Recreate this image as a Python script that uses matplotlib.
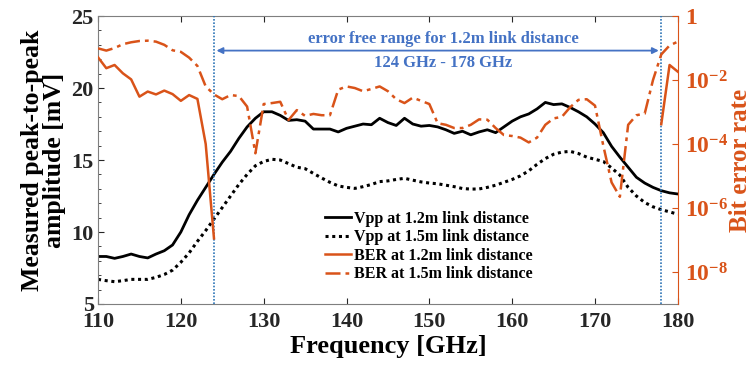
import matplotlib
matplotlib.use("Agg")
import matplotlib.pyplot as plt
import numpy as np

plt.rcParams['font.family'] = ['Liberation Serif', 'DejaVu Serif']
plt.rcParams['font.weight'] = 'bold'
plt.rcParams['mathtext.fontset'] = 'custom'
plt.rcParams['mathtext.rm'] = 'Liberation Serif:bold'
plt.rcParams['mathtext.bf'] = 'Liberation Serif:bold'
plt.rcParams['mathtext.it'] = 'Liberation Serif:bold'

# frequency grid [GHz]
freq = list(range(110, 181))

# peak-to-peak amplitude [mV]
vpp_12 = [8.3, 8.3, 8.17, 8.3, 8.47, 8.3, 8.2, 8.47, 8.7, 9.1,
          10.0, 11.2, 12.2, 13.1, 14.0, 14.85, 15.6, 16.5, 17.3, 17.9,
          18.35, 18.35, 18.1, 17.75, 17.8, 17.7, 17.15, 17.15, 17.15, 16.95,
          17.2, 17.35, 17.5, 17.45, 17.9, 17.6, 17.4, 17.9, 17.5, 17.35,
          17.4, 17.3, 17.1, 16.85, 17.0, 16.75, 16.95, 17.1, 16.9, 17.3,
          17.7, 18.0, 18.2, 18.55, 19.0, 18.85, 18.9, 18.65, 18.35, 18.0,
          17.5, 16.9, 15.95, 15.2, 14.5, 13.8, 13.4, 13.1, 12.87, 12.72,
          12.64]
vpp_15 = [6.71, 6.62, 6.55, 6.62, 6.71, 6.71, 6.71, 6.85, 7.05, 7.35,
          7.9, 8.55, 9.35, 10.1, 10.9, 11.7, 12.5, 13.3, 14.0, 14.6,
          14.9, 15.05, 15.0, 14.75, 14.5, 14.4, 14.07, 13.75, 13.45, 13.2,
          13.1, 13.03, 13.15, 13.3, 13.5, 13.55, 13.65, 13.73, 13.6, 13.48,
          13.4, 13.35, 13.25, 13.15, 13.02, 12.98, 12.99, 13.1, 13.25, 13.45,
          13.65, 13.9, 14.25, 14.7, 15.1, 15.4, 15.55, 15.6, 15.45, 15.2,
          15.05, 14.9, 14.45, 13.95, 13.1, 12.5, 12.05, 11.75, 11.55, 11.4,
          11.23]

# bit error rate, stored as log10 exponents (nan = error free / not measured)
nan = float('nan')
ber_12_exp = [-1.29, -1.63, -1.53, -1.79, -1.98, -2.52, -2.36, -2.45, -2.33, -2.44,
              -2.65, -2.47, -2.59, -4.0, -6.95] + [nan] * 53 + [-3.38, -1.53, -1.74]
ber_15_exp = [-1.01, -1.08, -1.0, -0.88, -0.82, -0.78, -0.77, -0.8, -0.9, -1.07,
              -1.12, -1.3, -1.56, -2.2, -2.45, -2.6, -2.47, -2.5, -2.83, -4.29,
              -2.75, -2.72, -2.68, -3.25, -2.94, -3.12, -3.06, -3.1, -3.1, -2.3,
              -2.2, -2.25, -2.35, -2.28, -2.2, -2.35, -2.6, -2.72, -2.55, -2.65,
              -2.75, -3.35, -3.4, -3.5, -3.5, -3.4, -3.23, -3.24, -3.5, -3.72,
              -3.75, -3.8, -3.95, -3.8, -3.4, -3.2, -3.15, -2.85, -2.62, -2.6,
              -2.8, -4.05, -5.2, -5.65, -3.4, -3.1, -3.05, -2.0, -1.2, -0.92,
              -0.8]

range_lo, range_hi = 124, 178
ber_ticks = [1e-8, 1e-6, 1e-4, 1e-2, 1]
ber_ticklabels = [r'$10^{-8}$', r'$10^{-6}$', r'$10^{-4}$', r'$10^{-2}$', '1']

orange = '#D95319'
blue = '#4472C4'
vblue = '#2E75B6'

fig = plt.figure(figsize=(7.54, 3.73), dpi=100)
ax = fig.add_axes([0.130, 0.185, 0.769, 0.772])
ax2 = ax.twinx()

l1, = ax.plot(freq, vpp_12, color='black', lw=2.0, label='Vpp at 1.2m link distance')
l2, = ax.plot(freq, vpp_15, color='black', lw=2.2, ls=(0, (1, 1.2)),
              label='Vpp at 1.5m link distance')
ax.set_xlim(110, 180)
ax.set_ylim(5, 25)
ax.set_xticks(range(110, 181, 10))
ax.set_yticks(range(5, 26, 5))
ax.set_yticks(range(5, 26), minor=True)
ax.tick_params(axis='both', which='both', direction='in', labelsize=16,
               colors='#262626', labelcolor='#262626')
ax.tick_params(axis='x', top=True, length=4, pad=6)
ax.tick_params(axis='y', which='major', length=4, pad=3)
ax.tick_params(axis='y', which='minor', length=2)
for side in ['left', 'bottom', 'top']:
    ax.spines[side].set_color('#7f7f7f')
ax.spines['right'].set_visible(False)
for lab in ax.get_xticklabels() + ax.get_yticklabels():
    lab.set_fontweight('bold')
ax.set_xlabel('Frequency [GHz]', fontsize=19, fontweight='bold', labelpad=2)
ax.set_ylabel('Measured peak-to-peak\namplitude [mV]', fontsize=18.5,
              fontweight='bold', labelpad=4, linespacing=0.95)

ber_12 = 10.0 ** np.array(ber_12_exp)
ber_15 = 10.0 ** np.array(ber_15_exp)
l3, = ax2.plot(freq, ber_12, color=orange, lw=1.8, label='BER at 1.2m link distance')
l4, = ax2.plot(freq, ber_15, color=orange, lw=1.8, ls=(0, (6, 2, 1.5, 2)),
               label='BER at 1.5m link distance')
ax2.set_yscale('log')
ax2.set_ylim(1e-9, 1)
ax2.set_yticks(ber_ticks)
ax2.set_yticklabels(ber_ticklabels)
ax2.yaxis.set_minor_locator(matplotlib.ticker.NullLocator())
ax2.tick_params(axis='y', direction='in', length=4, labelsize=17,
                colors=orange, labelcolor=orange, pad=5)
ax2.spines['right'].set_color(orange)
for side in ['left', 'bottom', 'top']:
    ax2.spines[side].set_visible(False)
ax2.set_ylabel('Bit error rate', fontsize=18, fontweight='bold', color=orange,
               labelpad=1)

# error-free range markers
for f in (range_lo, range_hi):
    ax.axvline(f, color=vblue, lw=1.2, ls=(0, (1, 1)), zorder=3)
ax.annotate('', xy=(range_lo + 0.3, 22.6), xytext=(range_hi - 0.3, 22.6),
            arrowprops=dict(arrowstyle='<|-|>', color=blue, lw=1.3,
                            mutation_scale=9, shrinkA=0, shrinkB=0))
ax.text((range_lo + range_hi) / 2 + 0.7, 23.4,
        'error free range for 1.2m link distance', color=blue,
        fontsize=12, fontweight='bold', ha='center', va='center')
ax.text((range_lo + range_hi) / 2 + 0.7, 21.75, '%d GHz - %d GHz' % (range_lo, range_hi),
        color=blue, fontsize=12, fontweight='bold', ha='center', va='center')

leg = ax2.legend(handles=[l1, l2, l3, l4], loc='upper left',
                 bbox_to_anchor=(325 / 754, 1 - 211 / 373),
                 bbox_transform=fig.transFigure, frameon=False,
                 fontsize=11.5, handlelength=1.6, handletextpad=0.2,
                 labelspacing=0.15, borderpad=0, borderaxespad=0)
for t in leg.get_texts():
    t.set_fontweight('bold')

fig.savefig('out.png', dpi=100)
